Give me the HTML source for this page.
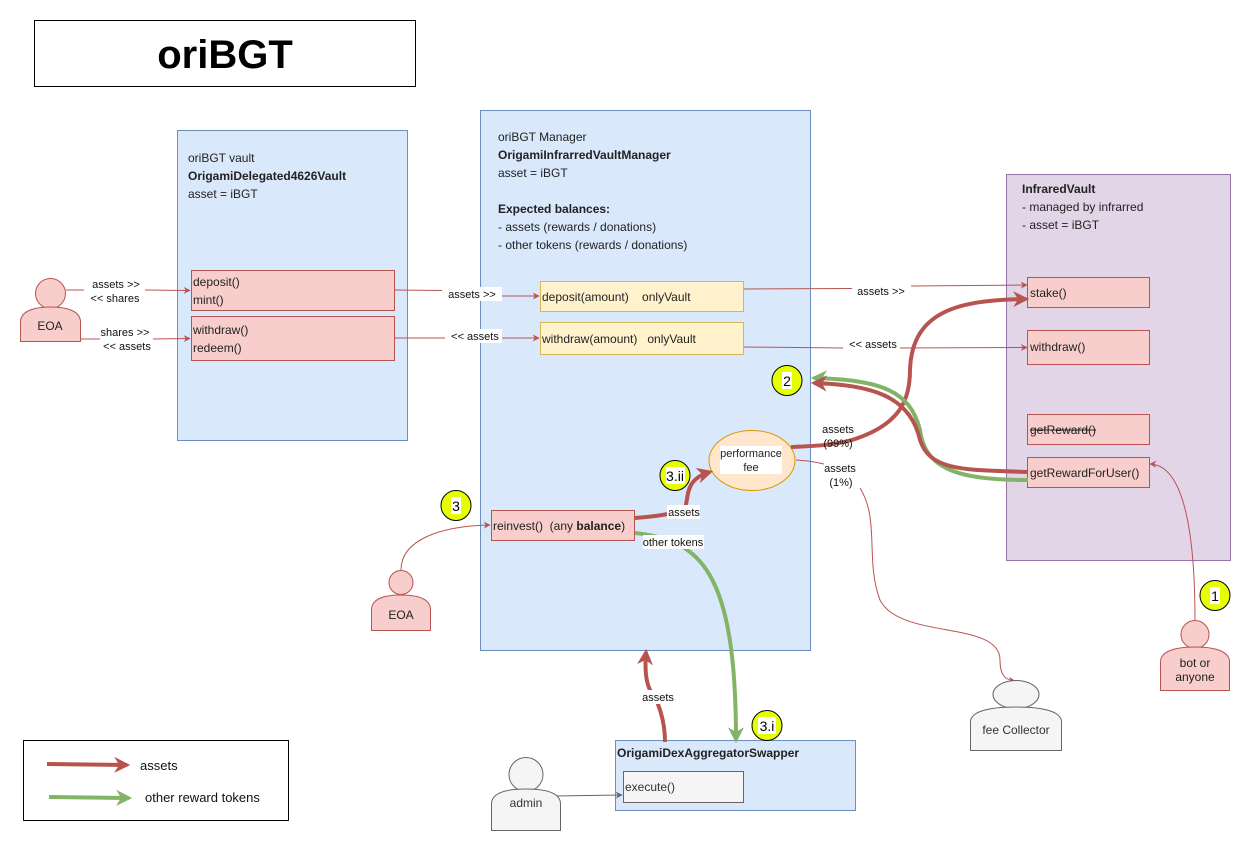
<!DOCTYPE html>
<html><head><meta charset="utf-8"><style>
body{margin:0;background:#fff}
svg{display:block;font-family:"Liberation Sans",Arial,sans-serif}
text{white-space:pre}
</style></head><body>
<svg width="1251" height="851" viewBox="0 0 1251 851" xmlns="http://www.w3.org/2000/svg">
<defs>
<marker id="ar" viewBox="0 0 10 10" refX="9" refY="5" markerWidth="7" markerHeight="7" orient="auto"><path d="M0,0 L10,5 L0,10 L3,5 Z" fill="#b85450"/></marker>
<marker id="ag" viewBox="0 0 10 10" refX="9" refY="5" markerWidth="7" markerHeight="7" orient="auto"><path d="M0,0 L10,5 L0,10 L3,5 Z" fill="#666"/></marker>
<marker id="arB" viewBox="0 0 10 10" refX="8" refY="5" markerWidth="4" markerHeight="4" orient="auto"><path d="M0,0 L10,5 L0,10 L3,5 Z" fill="#b85450"/></marker>
<marker id="agB" viewBox="0 0 10 10" refX="8" refY="5" markerWidth="4" markerHeight="4" orient="auto"><path d="M0,0 L10,5 L0,10 L3,5 Z" fill="#82b366"/></marker>
</defs>
<!-- title -->
<rect x="34.5" y="20.5" width="381" height="66" fill="#fff" stroke="#000"/>
<text x="225" y="68" font-size="40" font-weight="bold" text-anchor="middle">oriBGT</text>

<!-- legend -->
<rect x="23.5" y="740.5" width="265" height="80" fill="#fff" stroke="#000"/>
<text x="140" y="770" font-size="13" fill="#111">assets</text>
<text x="145" y="802" font-size="13" fill="#111">other reward tokens</text>

<!-- containers -->
<rect x="177.5" y="130.5" width="230" height="310" fill="#dae8fc" stroke="#6c8ebf"/>
<g font-size="12" fill="#222">
<text x="188" y="162">oriBGT vault</text>
<text x="188" y="180" font-weight="bold">OrigamiDelegated4626Vault</text>
<text x="188" y="198">asset = iBGT</text>
</g>
<rect x="480.5" y="110.5" width="330" height="540" fill="#dae8fc" stroke="#6c8ebf"/>
<g font-size="12" fill="#222">
<text x="498" y="141">oriBGT Manager</text>
<text x="498" y="159" font-weight="bold">OrigamiInfrarredVaultManager</text>
<text x="498" y="177">asset = iBGT</text>
<text x="498" y="213" font-weight="bold">Expected balances:</text>
<text x="498" y="231">- assets (rewards / donations)</text>
<text x="498" y="249">- other tokens (rewards / donations)</text>
</g>
<rect x="1006.5" y="174.5" width="224" height="386" fill="#e1d5e7" stroke="#9673a6"/>
<g font-size="12" fill="#222">
<text x="1022" y="193" font-weight="bold">InfraredVault</text>
<text x="1022" y="211">- managed by infrarred</text>
<text x="1022" y="229">- asset = iBGT</text>
</g>
<rect x="615.5" y="740.5" width="240" height="70" fill="#dae8fc" stroke="#6c8ebf"/>
<text x="617" y="757" font-size="12" font-weight="bold" fill="#222">OrigamiDexAggregatorSwapper</text>
<rect x="623.5" y="771.5" width="120" height="31" fill="#f5f5f5" stroke="#666"/>
<text x="625" y="791" font-size="12" fill="#333">execute()</text>

<!-- function boxes -->
<g font-size="12" fill="#222">
<rect x="191.5" y="270.5" width="203" height="40" fill="#f8cecc" stroke="#b85450"/>
<text x="193" y="286">deposit()</text><text x="193" y="304">mint()</text>
<rect x="191.5" y="316.5" width="203" height="44" fill="#f8cecc" stroke="#b85450"/>
<text x="193" y="334">withdraw()</text><text x="193" y="352">redeem()</text>
<rect x="540.5" y="281.5" width="203" height="30" fill="#fff2cc" stroke="#d6b656"/>
<text x="542" y="301">deposit(amount)    onlyVault</text>
<rect x="540.5" y="322.5" width="203" height="32" fill="#fff2cc" stroke="#d6b656"/>
<text x="542" y="343">withdraw(amount)   onlyVault</text>
<rect x="491.5" y="510.5" width="143" height="30" fill="#f8cecc" stroke="#b85450"/>
<text x="493" y="530">reinvest()  (any <tspan font-weight="bold">balance</tspan>)</text>
<rect x="1027.5" y="277.5" width="122" height="30" fill="#f8cecc" stroke="#b85450"/>
<text x="1030" y="297">stake()</text>
<rect x="1027.5" y="330.5" width="122" height="34" fill="#f8cecc" stroke="#b85450"/>
<text x="1030" y="351">withdraw()</text>
<rect x="1027.5" y="414.5" width="122" height="30" fill="#f8cecc" stroke="#b85450"/>
<text x="1030" y="434">getReward()</text>
<line x1="1030" y1="430" x2="1096" y2="430" stroke="#222" stroke-width="1"/>
<rect x="1027.5" y="457.5" width="122" height="30" fill="#f8cecc" stroke="#b85450"/>
<text x="1030" y="477">getRewardForUser()</text>
</g>

<!-- performance fee -->
<ellipse cx="752" cy="460.5" rx="43" ry="30" fill="#ffe6cc" stroke="#d79b00"/>
<rect x="720" y="446" width="62" height="28" fill="#fff"/>
<text x="751" y="457" font-size="11" text-anchor="middle" fill="#222">performance</text>
<text x="751" y="471" font-size="11" text-anchor="middle" fill="#222">fee</text>

<!-- thin arrows -->
<g fill="none" stroke="#b85450" stroke-width="1">
<path d="M66,290 H84 M145,290 L190,290.5" marker-end="url(#ar)"/>
<path d="M81,339 H100 M153,339 L190,338.5" marker-end="url(#ar)"/>
<path d="M395,290 L442,290.5 M502,296 L539,296" marker-end="url(#ar)"/>
<path d="M395,338 H445 M502,338 H539" marker-end="url(#ar)"/>
<path d="M744,289 L852,288.5 M911,286 L1027,285" marker-end="url(#ar)"/>
<path d="M744,347 L843,348 M900,348 L1027,347.5" marker-end="url(#ar)"/>
<path d="M401,570 C401,540 440,526 490,525" marker-end="url(#ar)"/>
<path d="M1195,620 C1195,560 1190,465 1150,464" marker-end="url(#ar)"/>
<path d="M796,460 C810,461 815,462 824,464 M860,488 C880,520 865,560 880,600 C900,640 1000,620 1000,660 C1000,675 1005,680 1015,681" marker-end="url(#ar)"/>
</g>
<path d="M555,796 L622,795" stroke="#666" fill="none" marker-end="url(#ag)"/>

<!-- thick arrows -->
<g fill="none" stroke-width="4">
<path d="M635,518 C660,516 670,514 684,510 C690,500 682,480 710,472" stroke="#b85450" marker-end="url(#arB)"/>
<path d="M791,447 C810,446 830,446 852,440 C900,425 910,400 910,370 C912,310 960,300 1026,299" stroke="#b85450" marker-end="url(#arB)"/>
<path d="M1028,480 C960,480 925,470 920,430 C910,390 880,380 814,378" stroke="#82b366" marker-end="url(#agB)"/>
<path d="M1028,472 C960,470 930,470 920,440 C910,395 870,385 814,383" stroke="#b85450" marker-end="url(#arB)"/>
<path d="M635,533 C700,540 736,570 736,740" stroke="#82b366" marker-end="url(#agB)"/>
<path d="M665,742 C665,720 658,700 650,690 C645,680 645,665 646,652" stroke="#b85450" marker-end="url(#arB)"/>
<path d="M47,764 L127,765" stroke="#b85450" marker-end="url(#arB)"/>
<path d="M49,797 L129,798" stroke="#82b366" marker-end="url(#agB)"/>
</g>

<!-- edge labels -->
<g font-size="11" fill="#111" text-anchor="middle">
<rect x="442" y="287" width="60" height="14" fill="#fff"/><text x="472" y="298">assets &gt;&gt;</text>
<rect x="445" y="329" width="57" height="14" fill="#fff"/><text x="475" y="340">&lt;&lt; assets</text>
<text x="881" y="295">assets &gt;&gt;</text>
<text x="873" y="348">&lt;&lt; assets</text>
<text x="116" y="288">assets &gt;&gt;</text><text x="115" y="302">&lt;&lt; shares</text>
<text x="125" y="336">shares &gt;&gt;</text><text x="127" y="350">&lt;&lt; assets</text>
<text x="838" y="433">assets</text><text x="838" y="447">(99%)</text>
<text x="840" y="472">assets</text><text x="841" y="486">(1%)</text>
<rect x="667" y="505" width="33" height="14" fill="#fff"/><text x="684" y="516">assets</text>
<rect x="643" y="535" width="61" height="14" fill="#fff"/><text x="673" y="546">other tokens</text>
<rect x="641" y="690" width="35" height="14" fill="#fff"/><text x="658" y="701">assets</text>
</g>

<!-- badges -->
<g stroke="#000">
<circle cx="787" cy="380.5" r="15" fill="#e6ff00"/>
<circle cx="675" cy="475.5" r="15" fill="#e6ff00"/>
<circle cx="456" cy="505.5" r="15" fill="#e6ff00"/>
<circle cx="767" cy="725.5" r="15" fill="#e6ff00"/>
<circle cx="1215" cy="595.5" r="15" fill="#e6ff00"/>
</g>
<g fill="#fff">
<rect x="782" y="372" width="10" height="17"/><rect x="666" y="467" width="19" height="17"/><rect x="451" y="497" width="10" height="17"/><rect x="758" y="717" width="18" height="17"/><rect x="1210" y="587" width="10" height="17"/>
</g>
<g font-size="14" text-anchor="middle" fill="#000">
<text x="787" y="386">2</text><text x="675" y="481">3.ii</text><text x="456" y="511">3</text><text x="767" y="731">3.i</text><text x="1215" y="601">1</text>
</g>

<!-- actors -->
<g stroke="#b85450" fill="#f8cecc">
<circle cx="50.5" cy="293.5" r="15"/>
<path d="M20.5,341.5 V322 C20.5,312 32,307 50.5,307 C69,307 80.5,312 80.5,322 V341.5 Z"/>
<circle cx="401" cy="582.5" r="12"/>
<path d="M371.5,630.5 V610 C371.5,600 382,595 401,595 C420,595 430.5,600 430.5,610 V630.5 Z"/>
<circle cx="1195" cy="634.5" r="14"/>
<path d="M1160.5,690.5 V662 C1160.5,652 1173,647 1195,647 C1217,647 1229.5,652 1229.5,662 V690.5 Z"/>
</g>
<g stroke="#666" fill="#f5f5f5">
<ellipse cx="1016" cy="694.5" rx="23" ry="14"/>
<path d="M970.5,750.5 V722 C970.5,712 987,707 1016,707 C1045,707 1061.5,712 1061.5,722 V750.5 Z"/>
<circle cx="526" cy="774.5" r="17"/>
<path d="M491.5,830.5 V804 C491.5,794 503,789 526,789 C549,789 560.5,794 560.5,804 V830.5 Z"/>
</g>
<g font-size="12" text-anchor="middle" fill="#222">
<text x="50" y="330">EOA</text>
<text x="401" y="619">EOA</text>
<text x="1195" y="667">bot or</text><text x="1195" y="681">anyone</text>
<text x="1016" y="734" fill="#333">fee Collector</text>
<text x="526" y="807" fill="#333">admin</text>
</g>
</svg>
</body></html>
